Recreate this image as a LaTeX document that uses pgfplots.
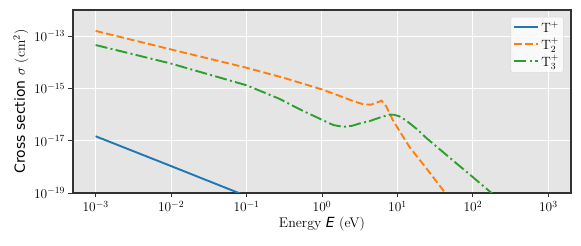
\RequirePackage{fix-cm}
\documentclass[border=0pt]{standalone}
\usepackage{fontspec}
\newfontfamily\djv{DejaVu Sans}
\usepackage{pgfplots}
\pgfplotsset{compat=1.18}
\definecolor{tabblue}{HTML}{1F77B4}
\definecolor{taborange}{HTML}{FF7F0E}
\definecolor{tabgreen}{HTML}{2CA02C}
\definecolor{bgcol}{HTML}{E5E5E5}
\definecolor{axcol}{HTML}{333333}
\begin{document}
\begin{tikzpicture}
\begin{axis}[
  scale only axis,
  width=498bp, height=183bp,
  xmode=log, ymode=log,
  xmin=5.0119e-4, xmax=1995.26,
  ymin=1e-19, ymax=1e-12,
  xtick={1e-3,1e-2,1e-1,1,10,100,1000},
  ytick={1e-19,1e-17,1e-15,1e-13},
  minor ytick={},
  log basis x=10, log basis y=10,
  axis background/.style={fill=bgcol},
  axis line style={axcol, line width=1.2bp},
  grid=major,
  major grid style={white, line width=1bp},
  tick align=outside,
  tick pos=left,
  major tick length=4.5bp,
  minor tick length=2.5bp,
  every tick/.style={axcol, line width=0.9bp},
  every minor tick/.style={axcol, line width=0.7bp},
  tick label style={font=\fontsize{13.5}{15}\selectfont},
  label style={font=\fontsize{14}{16}\selectfont},
  xlabel={Energy {\djv\itshape E} (eV)},
  ylabel={{\djv Cross section} $\sigma$ (cm$^2$)},
  xlabel style={yshift=2bp},
  ylabel style={yshift=-1bp},
  legend cell align=left,
  legend style={at={(0.985,0.962)}, anchor=north east, fill=white, fill opacity=0.8, text opacity=1, draw=black!15, rounded corners=2pt, font=\fontsize{13.5}{15}\selectfont, row sep=0.5bp, inner sep=2.5bp},
  legend image code/.code={\draw[#1, line width=2bp] (0bp,0.5bp) -- (24bp,0.5bp);},
  clip=true,
]
\addplot[tabblue, line width=1.9bp] coordinates {
(0.001,1.48e-17) (0.01,1.07e-18) (0.1,7.6e-20) (0.2,3.5e-20)
};
\addlegendentry{T$^+$}
\addplot[taborange, line width=1.9bp, dash pattern=on 7.5bp off 3.3bp] coordinates {
(0.001,1.585e-13) (0.01,3.09e-14) (0.1,6.17e-15) (0.3162,2.51e-15) (1,9.12e-16)
(1.585,5.62e-16) (2.512,3.39e-16) (3.548,2.455e-16) (4.467,2.40e-16) (5.248,2.82e-16)
(6.166,3.39e-16) (7.079,2.09e-16) (8.71,6.03e-17) (14.45,5.75e-18) (25.12,7.59e-19) (50.12,5.62e-20)
};
\addlegendentry{T$_2^+$}
\addplot[tabgreen, line width=1.9bp, dash pattern=on 12bp off 3.3bp on 2bp off 3.3bp] coordinates {
(0.001,4.57e-14) (0.01,8.91e-15) (0.1,1.318e-15) (0.2692,4.07e-16) (0.5012,1.62e-16)
(1,6.31e-17) (1.413,3.98e-17) (1.905,3.39e-17) (2.512,3.72e-17) (3.162,4.57e-17)
(4.266,5.62e-17) (6.026,7.94e-17) (7.943,1.0e-16) (9,9.8e-17) (10.5,8.7e-17) (12.3,6.6e-17) (14.45,4.7e-17)
(18.6,2.6e-17) (24.32,1.25e-17) (50.12,2.14e-18) (101.4,3.89e-19) (199.5,7.41e-20)
};
\addlegendentry{T$_3^+$}
\end{axis}
\pgfresetboundingbox
\path[use as bounding box] (current axis.south west) ++(-73bp,-53bp) rectangle ([xshift=10bp,yshift=10bp]current axis.north east);
\end{tikzpicture}
\end{document}
